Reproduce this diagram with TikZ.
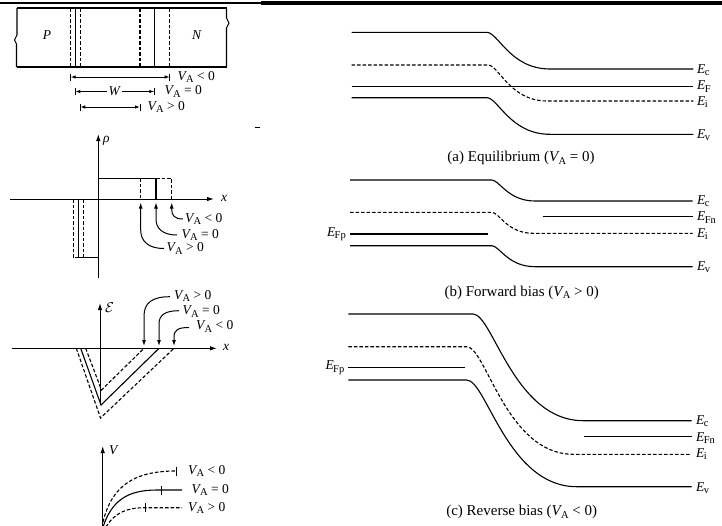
\documentclass[tikz,border=0pt]{standalone}
\usepackage{fontspec}
\setmainfont{Liberation Serif}
\usetikzlibrary{arrows.meta}
\newcommand{\lowsub}[1]{\raisebox{-0.35ex}{\fontsize{10.5}{11}\selectfont #1}}
\newcommand{\VA}{\textit{V}\kern-0.08em\lowsub{A}}
\newcommand{\En}[1]{\textit{E}\kern-0.05em\lowsub{#1}}
\newcommand{\bandS}[7]{%
  \draw[#1] (#2,#4) -- (#3,#4) .. controls ({#3+0.18*(#5-#3)},#4) and ({#3+0.37*(#5-#3)},#6) .. (#5,#6) -- (#7,#6);}
\tikzset{
  solidline/.style={line width=1.1pt},
  dashline/.style={line width=1.1pt, dash pattern=on 3.5pt off 2pt},
  lbl/.style={font=\fontsize{13.5}{15}\selectfont, inner sep=1pt},
  captxt/.style={font=\fontsize{15}{17}\selectfont, inner sep=1pt},
  axisline/.style={line width=1pt, -{Latex[length=7pt,width=4.5pt]}},
  dimline/.style={line width=0.9pt, {Latex[length=5pt,width=3.5pt]}-{Latex[length=5pt,width=3.5pt]}},
  barline/.style={line width=0.9pt},
  callout/.style={line width=1pt, -{Latex[length=6pt,width=4pt]}}
}
\begin{document}
\begin{tikzpicture}[x=1pt,y=-1pt]
\useasboundingbox (0,0) rectangle (722,525);
% top rules
\draw[line width=1.4pt] (0,2.9) -- (261,2.9);
\draw[line width=4pt] (261,2.8) -- (722,2.8);
% ---------- P-N bar ----------
\draw[solidline] (17,8) -- (226.5,8);
\draw[solidline] (17,67) -- (226.5,67);
\draw[solidline] (17,8) -- (17,35) -- (14.5,40) -- (16.5,44) -- (16.5,67);
\draw[solidline] (226.5,8) -- (226.5,18) -- (229,23) -- (226.5,28) -- (226.5,67);
\node[lbl] (P) at (47,35) {\textit{P}};
\node[lbl] (N) at (197,35) {\textit{N}};
\draw[dashline] (70.7,8) -- (70.7,67);
\draw[solidline] (75.3,8) -- (75.3,67);
\draw[dashline] (80.3,8) -- (80.3,67);
\draw[dashline] (140,8) -- (140,67);
\draw[solidline] (154.3,8) -- (154.3,67);
\draw[dashline] (169.7,8) -- (169.7,67);
% dimension lines
\coordinate (d1a) at (70.7,77); \coordinate (d1b) at (169.7,77);
\draw[dimline] (d1a) -- (d1b);
\draw[barline] ([yshift=-3.5pt]d1a) -- ([yshift=3.5pt]d1a);
\draw[barline] ([yshift=-3.5pt]d1b) -- ([yshift=3.5pt]d1b);
\node[lbl,anchor=west] (L1) at (176.5,77) {\VA{} < 0};
\coordinate (d2a) at (75.3,91.5); \coordinate (d2b) at (154.3,91.5);
\draw[dimline] (d2a) -- (d2b) node[midway,fill=white,lbl,inner sep=1.5pt] (W) {\textit{W}};
\draw[barline] ([yshift=-3.5pt]d2a) -- ([yshift=3.5pt]d2a);
\draw[barline] ([yshift=-3.5pt]d2b) -- ([yshift=3.5pt]d2b);
\node[lbl,anchor=west] (L2) at (163.5,91.5) {\VA{} = 0};
\coordinate (d3a) at (80.3,107); \coordinate (d3b) at (140,107);
\draw[dimline] (d3a) -- (d3b);
\draw[barline] ([yshift=-3.5pt]d3a) -- ([yshift=3.5pt]d3a);
\draw[barline] ([yshift=-3.5pt]d3b) -- ([yshift=3.5pt]d3b);
\node[lbl,anchor=west] (L3) at (146.5,107) {\VA{} > 0};
% stray mark
\draw[line width=1pt] (254.5,127) -- (259.5,127);
% ---------- charge density ----------
\draw[axisline] (98.3,278) -- (98.3,134);
\node[lbl,anchor=west] (rho) at (102,141) {\textit{ρ}};
\draw[axisline] (10,199) -- (214,199);
\node[lbl,anchor=west] (x1) at (220,198) {\textit{x}};
\draw[solidline] (98.3,178.3) -- (156,178.3) -- (156,199);
\draw[dashline] (156,178.3) -- (171.7,178.3) -- (171.7,199);
\draw[dashline] (140.7,178.3) -- (140.7,199);
\draw[solidline] (78.3,199) -- (78.3,257.7) -- (98.3,257.7);
\draw[dashline] (78.3,257.7) -- (73.3,257.7);
\draw[dashline] (73.3,199) -- (73.3,257.7);
\draw[dashline] (83.3,199) -- (83.3,257.7);
\node[lbl,anchor=west] (r1) at (184,219) {\VA{} < 0};
\node[lbl,anchor=west] (r2) at (180.5,235) {\VA{} = 0};
\node[lbl,anchor=west] (r3) at (165.5,248.5) {\VA{} > 0};
\coordinate (r1t) at (171.7,202.5);
\coordinate (r2t) at (156,202.5);
\coordinate (r3t) at (140.7,202.5);
\draw[callout] (183,219) .. controls (174,219) and (171.7,215) .. (171.7,209) -- (r1t);
\draw[callout] (177,235) .. controls (162,235) and (156,228) .. (156,219) -- (r2t);
\draw[callout] (164,248.5) .. controls (148,248.5) and (140.7,241) .. (140.7,230) -- (r3t);
% ---------- electric field ----------
\draw[axisline] (100,405) -- (100,303);
\node[lbl,anchor=west] (Ef) at (104,308) {$\mathcal{E}$};
\draw[axisline] (12,348.3) -- (217,348.3);
\node[lbl,anchor=west] (x2) at (222,347) {\textit{x}};
\draw[solidline] (80.7,348.3) -- (101,405) -- (159,348.3);
\draw[dashline] (85.7,348.3) -- (101.5,390) -- (144,348.3);
\draw[dashline] (76.3,348.3) -- (100.5,418) -- (174,348.3);
\node[lbl,anchor=west] (e1) at (173,296) {\VA{} > 0};
\node[lbl,anchor=west] (e2) at (181.5,311.5) {\VA{} = 0};
\node[lbl,anchor=west] (e3) at (195,326.5) {\VA{} < 0};
\coordinate (e1t) at (144,346);
\coordinate (e2t) at (159,346);
\coordinate (e3t) at (174,346);
\draw[callout] (170,296.7) .. controls (152,296.7) and (144,303) .. (144,316) -- (e1t);
\draw[callout] (179,310.7) .. controls (165,310.7) and (159,315) .. (159,324) -- (e2t);
\draw[callout] (189,327.5) .. controls (178,327.5) and (174,330) .. (174,337) -- (e3t);
% ---------- potential ----------
\draw[axisline] (102.7,530) -- (102.7,446);
\node[lbl,anchor=west] (Vl) at (108,450) {\textit{V}};
\draw[dashline] (103,522) .. controls (112,485) and (135,471) .. (176,471);
\draw[barline] (176,466.5) -- (176,475.5);
\draw[solidline] (103,527) .. controls (112,500) and (128,490) .. (157,490) -- (182,490);
\draw[barline] (161,485.5) -- (161,494.5);
\draw[dashline] (106,527) .. controls (115,512) and (128,507.7) .. (145,507.7) -- (182,507.7);
\draw[barline] (145,503.2) -- (145,512.2);
\node[lbl,anchor=west] (v1) at (187,471) {\VA{} < 0};
\node[lbl,anchor=west] (v2) at (190.5,490) {\VA{} = 0};
\node[lbl,anchor=west] (v3) at (187,508) {\VA{} > 0};
% ---------- (a) equilibrium ----------
\bandS{solidline}{351.7}{486.7}{32.3}{550}{69}{693.3}
\bandS{dashline}{351.7}{488}{65}{547}{101}{693.3}
\draw[solidline] (351.7,86.7) -- (693.3,86.7);
\bandS{solidline}{351.7}{486.7}{97.7}{550}{134.3}{693.3}
\node[lbl,anchor=west] (aEc) at (696,70) {\En{c}};
\node[lbl,anchor=west] (aEF) at (696,86.5) {\En{F}};
\node[lbl,anchor=west] (aEi) at (696,102) {\En{i}};
\node[lbl,anchor=west] (aEv) at (696,135) {\En{v}};
\node[captxt] (capa) at (521,158) {(a) Equilibrium (\VA{} = 0)};
% ---------- (b) forward bias ----------
\bandS{solidline}{350}{491.7}{180}{535}{201}{692.7}
\bandS{dashline}{350}{491.7}{212.3}{533}{233.3}{692.7}
\draw[solidline] (350,234) -- (488.3,234);
\draw[solidline] (542.7,216.7) -- (692.7,216.7);
\bandS{solidline}{350}{491.7}{245.7}{535}{266.7}{692.7}
\node[lbl,anchor=east] (bEFp) at (347,234) {\En{Fp}};
\node[lbl,anchor=west] (bEc) at (696,201) {\En{c}};
\node[lbl,anchor=west] (bEFn) at (696,217.5) {\En{Fn}};
\node[lbl,anchor=west] (bEi) at (696,234) {\En{i}};
\node[lbl,anchor=west] (bEv) at (696,267.5) {\En{v}};
\node[captxt] (capb) at (521.7,292.5) {(b) Forward bias (\VA{} > 0)};
% ---------- (c) reverse bias ----------
\bandS{solidline}{348.3}{473}{314}{583.3}{420.7}{691.7}
\bandS{dashline}{348.3}{466.7}{346.7}{573.3}{454.3}{691.7}
\draw[solidline] (348.3,367.7) -- (465,367.7);
\draw[solidline] (584,436.7) -- (691.7,436.7);
\bandS{solidline}{348.3}{466.7}{380}{576.7}{486.7}{691.7}
\node[lbl,anchor=east] (cEFp) at (345.5,367.7) {\En{Fp}};
\node[lbl,anchor=west] (cEc) at (695,421.5) {\En{c}};
\node[lbl,anchor=west] (cEFn) at (695,438) {\En{Fn}};
\node[lbl,anchor=west] (cEi) at (695,454) {\En{i}};
\node[lbl,anchor=west] (cEv) at (695,488) {\En{v}};
\node[captxt] (capc) at (521.7,512) {(c) Reverse bias (\VA{} < 0)};
\end{tikzpicture}
\end{document}
